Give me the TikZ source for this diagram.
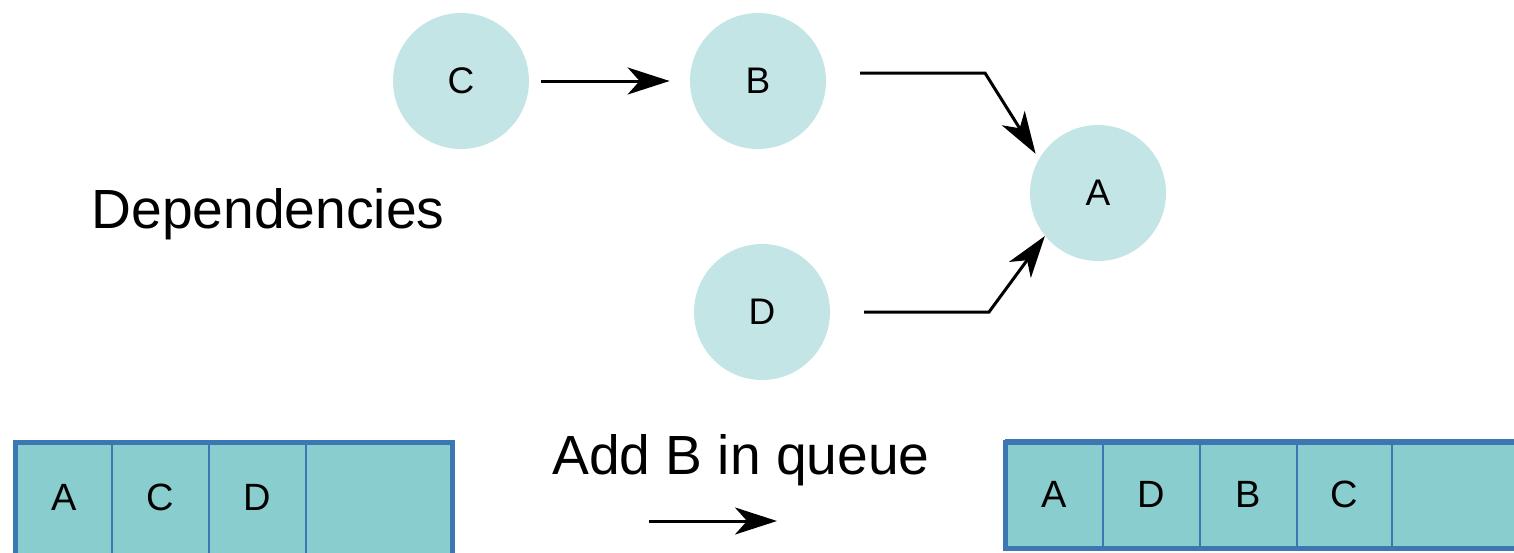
\documentclass[tikz,border=0pt]{standalone}
\usepackage{fontspec}
\setmainfont{Liberation Sans}
\usetikzlibrary{arrows.meta}
\definecolor{circfill}{HTML}{C4E5E6}
\definecolor{qfill}{HTML}{89CDCE}
\definecolor{qblue}{HTML}{3B77B0}
\tikzset{
  dep/.style={circle, fill=circfill, minimum size=68pt, inner sep=0pt, font=\fontsize{18.5}{20}\selectfont},
  conn/.style={line width=1.5pt, -{Stealth[length=21pt, width=13.5pt, inset=6pt]}},
  cell/.style={rectangle, draw=qblue, line width=0.75pt, fill=qfill, inner sep=0pt, minimum height=54pt, font=\fontsize{19}{21}\selectfont},
  tallcell/.style={cell, minimum height=66pt},
  qframe/.style={draw=qblue, line width=2.5pt},
  title/.style={font=\fontsize{27.6}{32}\selectfont, inner sep=0pt}
}
\begin{document}
\begin{tikzpicture}[x=0.5pt, y=-0.5pt]
\useasboundingbox (0,0) rectangle (1514,552);
\clip (0,0) rectangle (1514,552);
% dependency nodes
\node[dep] (C) at (461,81) {C};
\node[dep] (B) at (758,81) {B};
\node[dep] (A) at (1098,193) {A};
\node[dep] (D) at (762,312) {D};
\node[title] (dep) at (268,214) {Dependencies};
% connectors
\draw[conn, shorten <=6pt, shorten >=10pt] (C.east) -- (B.west);
\coordinate (b1) at (860,73);
\coordinate (b2) at (985,73);
\draw[conn, shorten >=3pt] (b1) -- (b2) -- (A.150);
\coordinate (d1) at (864,312);
\coordinate (d2) at (989,312);
\draw[conn] (d1) -- (d2) -- (A.219);
% left queue (runs past the bottom edge)
\node[tallcell, minimum width=48.5pt] (l1) at (64,509) {\raisebox{12pt}{A}};
\node[tallcell, minimum width=48.5pt] (l2) at (160.5,509) {\raisebox{12pt}{C}};
\node[tallcell, minimum width=48.5pt] (l3) at (257.5,509) {\raisebox{12pt}{D}};
\node[tallcell, minimum width=73pt] (l4) at (379,509) {};
\draw[qframe] (15.5,580) -- (15.5,442.5) -- (452.5,442.5) -- (452.5,580);
% right queue
\node[cell, minimum width=48.5pt] (r1) at (1054.5,494) {A};
\node[cell, minimum width=48.5pt] (r2) at (1151.5,494) {D};
\node[cell, minimum width=48.5pt] (r3) at (1248.5,494) {B};
\node[cell, minimum width=47.5pt] (r4) at (1344.5,494) {C};
\node[cell, minimum width=70pt] (r5) at (1462,494) {};
\draw[qframe] (1560,442.5) -- (1005.5,442.5) -- (1005.5,548.5) -- (1560,548.5);
% middle label
\node[title] (add) at (741,460) {Add B in queue};
\coordinate (m1) at (649,521);
\coordinate (m2) at (777,521);
\draw[conn] (m1) -- (m2);
\end{tikzpicture}
\end{document}
